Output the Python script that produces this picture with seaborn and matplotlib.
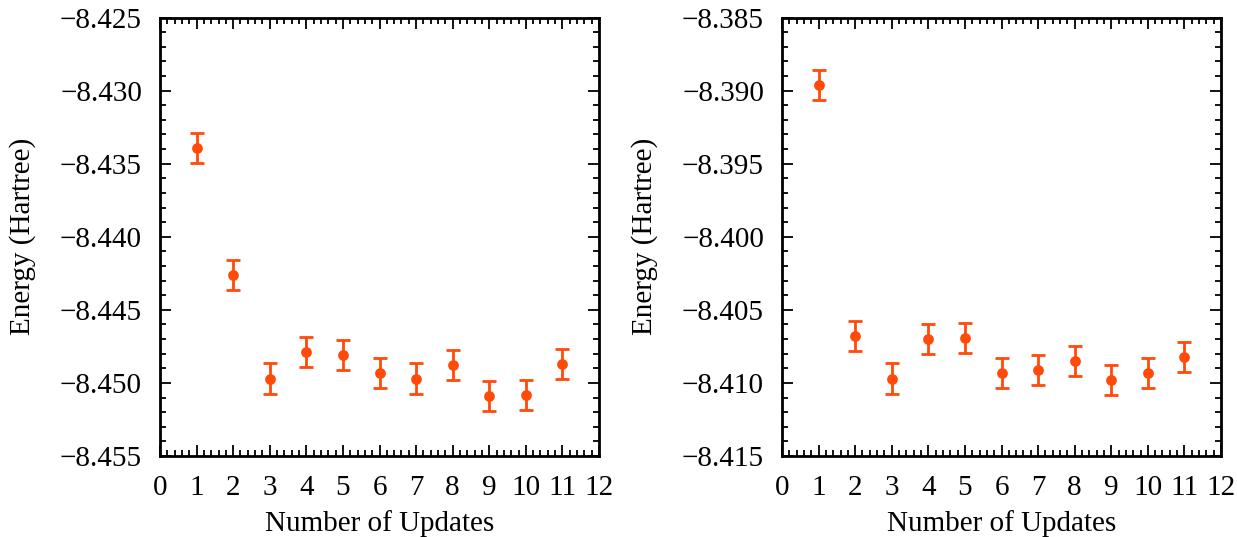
import numpy as np
import pandas as pd
import matplotlib
matplotlib.use("Agg")
import matplotlib.pyplot as plt
import seaborn as sns
from matplotlib.ticker import MultipleLocator, AutoMinorLocator

updates = [1, 2, 3, 4, 5, 6, 7, 8, 9, 10, 11]
energy_left = [-8.4339, -8.4426, -8.4497, -8.4479, -8.4481, -8.4493,
               -8.4497, -8.4488, -8.4509, -8.4508, -8.4487]
err_left = [0.00103] * 11
energy_right = [-8.3896, -8.4068, -8.4097, -8.4070, -8.4069, -8.4093,
                -8.4091, -8.4085, -8.4098, -8.4093, -8.4082]
err_right = [0.00103] * 11

ylims_left = (-8.455, -8.425)
ylims_right = (-8.415, -8.385)

sns.set_theme(style="ticks")
plt.rcParams['font.family'] = ['Liberation Serif', 'DejaVu Serif']
plt.rcParams['text.color'] = 'black'
plt.rcParams['axes.labelcolor'] = 'black'

color = "#FF4A0A"

fig = plt.figure(figsize=(12.37, 5.37), dpi=100)
ax1 = fig.add_axes([160 / 1237, 81 / 537, 439 / 1237, 438.5 / 537])
ax2 = fig.add_axes([782 / 1237, 81 / 537, 439 / 1237, 438.5 / 537])

for ax, e, err, yl in [(ax1, energy_left, err_left, ylims_left),
                       (ax2, energy_right, err_right, ylims_right)]:
    df = pd.DataFrame({"x": updates, "y": e, "err": err})
    ax.errorbar(df["x"], df["y"], yerr=df["err"], fmt="none", ecolor=color,
                elinewidth=2, capsize=5, capthick=2, zorder=2)
    sns.scatterplot(data=df, x="x", y="y", ax=ax, color=color, s=60,
                    edgecolor=color, linewidth=0, zorder=3, legend=False)
    ax.set_xlim(0, 12)
    ax.set_ylim(*yl)
    ax.xaxis.set_major_locator(MultipleLocator(1))
    ax.xaxis.set_minor_locator(AutoMinorLocator(5))
    ax.yaxis.set_major_locator(MultipleLocator(0.005))
    ax.yaxis.set_minor_locator(AutoMinorLocator(5))
    ax.yaxis.set_major_formatter(matplotlib.ticker.FuncFormatter(
        lambda v, p: ("\u2212" if v < 0 else "") + f"{abs(v):.3f}"))
    ax.tick_params(which="both", direction="in", top=True, right=True,
                   width=1.3, colors="black", labelcolor="black", labelsize=21)
    ax.tick_params(which="major", length=8)
    ax.tick_params(axis="y", which="major", pad=13)
    ax.tick_params(axis="x", which="major", pad=14)
    ax.tick_params(which="minor", length=4)
    for s in ax.spines.values():
        s.set_linewidth(2)
        s.set_color("black")
    ax.set_xlabel("Number of Updates", fontsize=21, labelpad=6, color="black")
    ax.set_ylabel("Energy (Hartree)", fontsize=21, labelpad=17, color="black")

fig.savefig("out.png", dpi=100)
